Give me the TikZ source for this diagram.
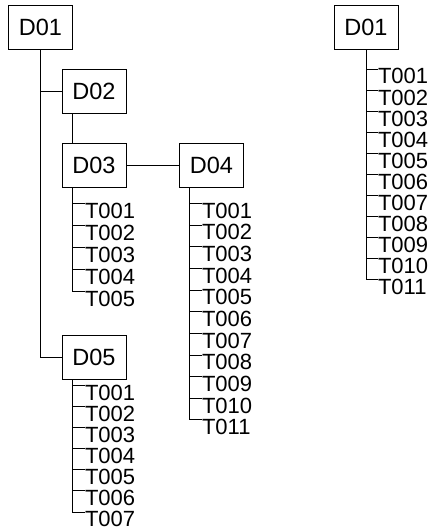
\documentclass[tikz,border=0pt]{standalone}
\usepackage{fontspec}
\setmainfont{Liberation Sans}
\begin{document}
\begin{tikzpicture}[x=1pt,y=-1pt,
  dbox/.style={draw, line width=0.9pt, minimum width=64pt, minimum height=44pt, inner sep=0pt, font=\fontsize{23.5}{23.5}\selectfont},
  titem/.style={anchor=north west, inner sep=0pt, outer sep=0pt, font=\fontsize{22}{22}\selectfont},
  conn/.style={line width=0.9pt}]
\useasboundingbox (0,0) rectangle (428,530);
% boxes
\node[dbox] (A1) at (40.5,27) {D01};
\node[dbox] (A2) at (94,91) {D02};
\node[dbox] (A3) at (94,165.5) {D03};
\node[dbox] (A4) at (211.5,165.5) {D04};
\node[dbox] (A5) at (94,357) {D05};
\node[dbox] (B1) at (366,27) {D01};
% connectors between boxes
\draw[conn] (A1.south) |- (A5.west);
\draw[conn] (A1.south |- A2.west) -- (A2.west);
\draw[conn] ([xshift=10.7pt]A2.south west) -- ([xshift=10.7pt]A3.north west);
\draw[conn] (A3.east) -- (A4.west);
% D03 list
\foreach \t [count=\k from 0] in {T001,T002,T003,T004,T005} {
  \node[titem] (c\k) at (85, 202.8+22*\k) {\t};
  \draw[conn] ([xshift=10.7pt]A3.south west) |- ([yshift=-0.6pt]c\k.north west);
}
% D04 list
\foreach \t [count=\k from 0] in {T001,T002,T003,T004,T005,T006,T007,T008,T009,T010,T011} {
  \node[titem] (d\k) at (202, 202.8+21.65*\k) {\t};
  \draw[conn] ([xshift=10.5pt]A4.south west) |- ([yshift=-0.6pt]d\k.north west);
}
% D05 list
\foreach \t [count=\k from 0] in {T001,T002,T003,T004,T005,T006,T007} {
  \node[titem] (e\k) at (85, 384.8+21.1*\k) {\t};
  \draw[conn] ([xshift=10.7pt]A5.south west) |- ([yshift=-0.6pt]e\k.north west);
}
% right D01 list
\foreach \t [count=\k from 0] in {T001,T002,T003,T004,T005,T006,T007,T008,T009,T010,T011} {
  \node[titem] (f\k) at (378, 68.6+21.07*\k) {\t};
  \draw[conn] (B1.south) |- ([yshift=-0.6pt]f\k.north west);
}
\end{tikzpicture}
\end{document}
